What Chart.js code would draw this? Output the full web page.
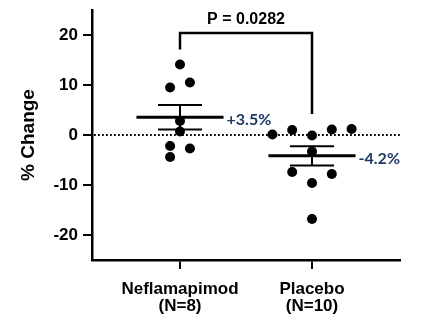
<!DOCTYPE html>
<html><head><meta charset="utf-8">
<script src="https://cdn.jsdelivr.net/npm/chart.js@4/dist/chart.umd.min.js"></script>
<style>html,body{margin:0;padding:0;background:#fff;}#c{display:block;}</style>
</head><body>
<canvas id="c" width="423" height="321"></canvas>
<script>
// ---- data ----
const categories = ['Neflamapimod', 'Placebo'];
const groupSizes = ['(N=8)', '(N=10)'];
const neflaValues = [14.1, 10.5, 9.5, 2.8, 0.7, -2.2, -2.7, -4.4];
const neflaLanes = [0, 1, -1, 0, 0, -1, 1, -1];
const placeboValues = [1.2, 1.1, 1.0, 0.1, -0.1, -3.3, -7.4, -7.8, -9.6, -16.8];
const placeboLanes = [4, 2, -2, -4, 0, 0, -2, 2, 0, 0];
const meanLabels = ['+3.5%', '-4.2%'];
const yTicks = [-20, -10, 0, 10, 20];
const pValueLabel = 'P = 0.0282';
const yTitle = '% Change';

const groups = [neflaValues, placeboValues];
const lanes = [neflaLanes, placeboLanes];
const LANE = 0.075;

function stats(arr) {
  const n = arr.length;
  const m = arr.reduce((a, b) => a + b, 0) / n;
  const sd = Math.sqrt(arr.reduce((a, b) => a + (b - m) * (b - m), 0) / (n - 1));
  return { mean: m, sem: sd / Math.sqrt(n), max: Math.max(...arr) };
}
const groupStats = groups.map(stats);

const FONT = 'Liberation Sans, Arial, sans-serif';

const overlay = {
  id: 'overlay',
  beforeDatasetsDraw(chart) {
    const { ctx, chartArea, scales: { y } } = chart;
    const y0 = y.getPixelForValue(0);
    ctx.save();
    ctx.strokeStyle = '#000';
    ctx.lineWidth = 2;
    ctx.setLineDash([1.8, 2.2]);
    ctx.beginPath();
    ctx.moveTo(chartArea.left + 2, y0);
    ctx.lineTo(chartArea.right, y0);
    ctx.stroke();
    ctx.restore();
  },
  afterDatasetsDraw(chart) {
    const { ctx, scales: { x, y } } = chart;
    ctx.save();
    ctx.strokeStyle = '#000';
    ctx.lineCap = 'butt';
    groupStats.forEach((s, i) => {
      const c = i + 1;
      const ym = y.getPixelForValue(s.mean);
      const yt = y.getPixelForValue(s.mean + s.sem);
      const yb = y.getPixelForValue(s.mean - s.sem);
      // SEM whisker
      ctx.lineWidth = 2;
      ctx.beginPath();
      ctx.moveTo(x.getPixelForValue(c), yt);
      ctx.lineTo(x.getPixelForValue(c), yb);
      ctx.moveTo(x.getPixelForValue(c - 0.167), yt);
      ctx.lineTo(x.getPixelForValue(c + 0.167), yt);
      ctx.moveTo(x.getPixelForValue(c - 0.167), yb);
      ctx.lineTo(x.getPixelForValue(c + 0.167), yb);
      ctx.stroke();
      // mean line
      ctx.lineWidth = 3;
      ctx.beginPath();
      ctx.moveTo(x.getPixelForValue(c - 0.33), ym);
      ctx.lineTo(x.getPixelForValue(c + 0.33), ym);
      ctx.stroke();
      // mean label
      ctx.fillStyle = '#1f3864';
      ctx.font = 'bold 16px Lato, sans-serif';
      ctx.textAlign = 'left';
      ctx.textBaseline = 'middle';
      ctx.fillText(meanLabels[i], x.getPixelForValue(c + 0.33) + 3, ym + 3);
    });
    // significance bracket
    const top = y.getPixelForValue(20.4);
    const xl = x.getPixelForValue(1), xr = x.getPixelForValue(2);
    ctx.lineWidth = 2.5;
    ctx.lineJoin = 'miter';
    ctx.beginPath();
    ctx.moveTo(xl, y.getPixelForValue(groupStats[0].max) - 15);
    ctx.lineTo(xl, top);
    ctx.lineTo(xr, top);
    ctx.lineTo(xr, y.getPixelForValue(groupStats[1].max) - 15);
    ctx.stroke();
    ctx.fillStyle = '#000';
    ctx.font = 'bold 16px ' + FONT;
    ctx.textAlign = 'center';
    ctx.textBaseline = 'alphabetic';
    ctx.fillText(pValueLabel, (xl + xr) / 2, top - 9);
    ctx.restore();
  }
};

new Chart(document.getElementById('c'), {
  type: 'scatter',
  data: {
    datasets: groups.map((vals, g) => ({
      data: vals.map((v, k) => ({ x: g + 1 + lanes[g][k] * LANE, y: v })),
      pointRadius: 5,
      pointBackgroundColor: '#000',
      pointBorderWidth: 0,
      borderWidth: 0
    }))
  },
  options: {
    responsive: false,
    animation: false,
    events: [],
    layout: { padding: { top: 10, right: 23, left: 0, bottom: 0 } },
    plugins: { legend: { display: false }, tooltip: { enabled: false } },
    scales: {
      x: {
        type: 'linear',
        min: 1 / 3,
        max: 8 / 3,
        afterBuildTicks: s => { s.ticks = categories.map((c, i) => ({ value: i + 1 })); },
        afterFit: s => { s.height = 61; s.paddingLeft = 0; s.paddingRight = 0; },
        grid: { drawOnChartArea: false, color: '#000', lineWidth: 2, tickLength: 9 },
        border: { color: '#000', width: 2.5 },
        ticks: {
          autoSkip: false,
          maxRotation: 0,
          padding: 11,
          color: '#000',
          font: { family: FONT, weight: 'bold', size: 17, lineHeight: 1.05 },
          callback: (v, i) => [categories[i], groupSizes[i]]
        }
      },
      y: {
        min: -25,
        max: 25,
        afterBuildTicks: s => { s.ticks = yTicks.map(v => ({ value: v })); },
        afterFit: s => { s.width = 92; s.paddingTop = 0; s.paddingBottom = 0; },
        grid: { drawOnChartArea: false, color: '#000', lineWidth: 2, tickLength: 9 },
        border: { color: '#000', width: 2.5 },
        ticks: {
          padding: 5,
          color: '#000',
          font: { family: FONT, weight: 'bold', size: 17 },
          callback: v => String(v)
        },
        title: {
          display: true,
          text: yTitle,
          color: '#000',
          padding: { top: 17, bottom: 0 },
          font: { family: FONT, weight: 'bold', size: 19 }
        }
      }
    }
  },
  plugins: [overlay]
});
</script>
</body></html>
